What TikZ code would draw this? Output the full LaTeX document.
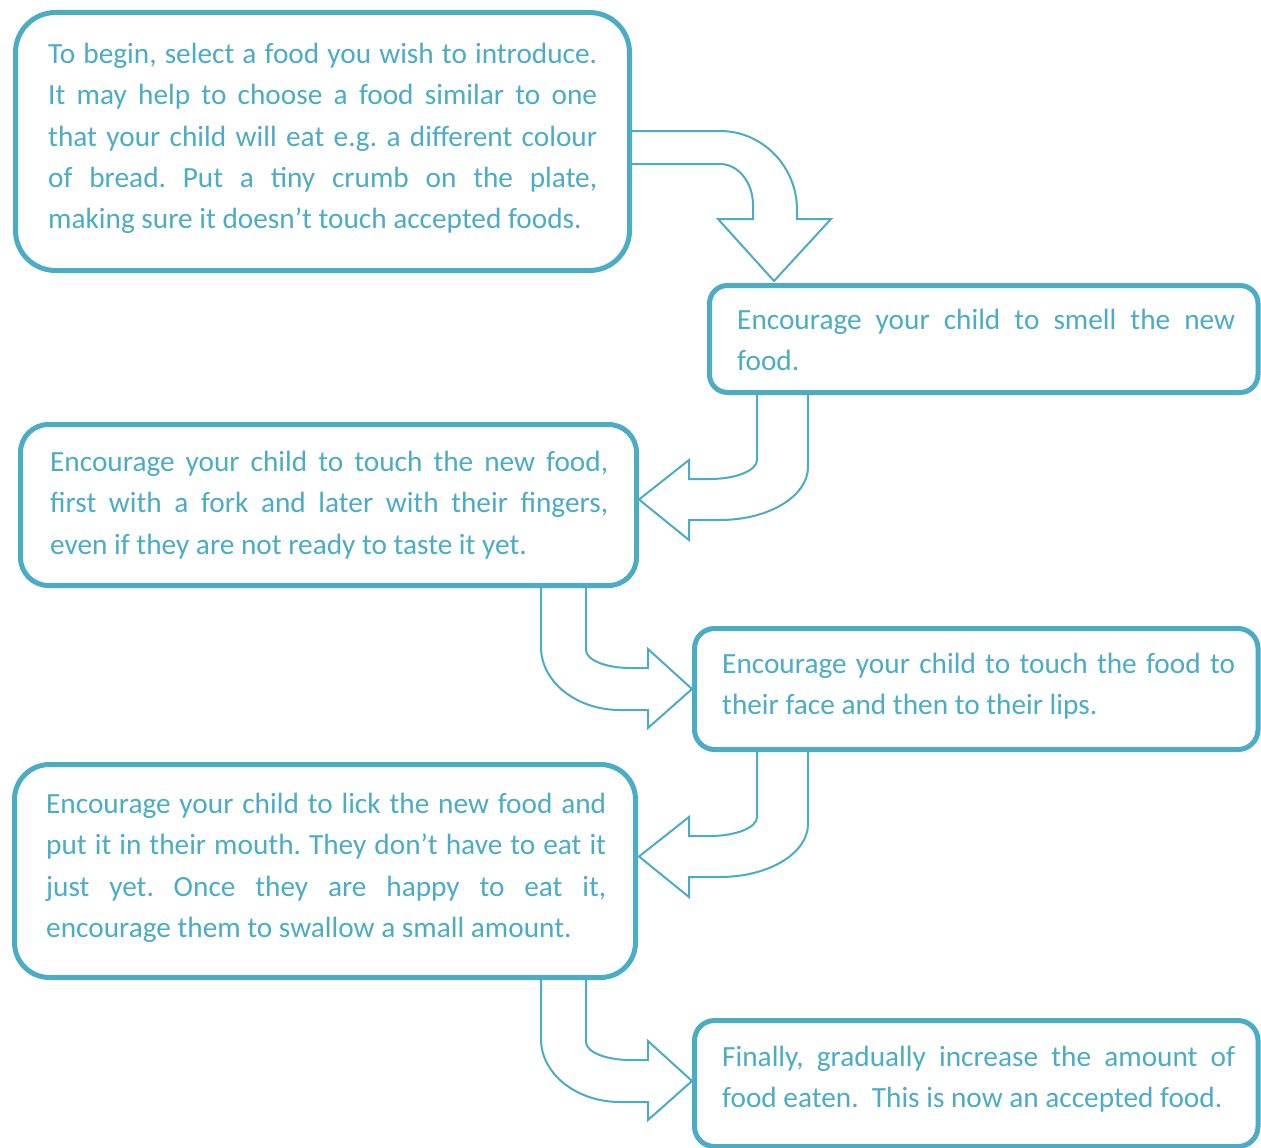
\documentclass[tikz,border=0pt]{standalone}
\usepackage{fontspec}
\setmainfont{Carlito}
\frenchspacing
\definecolor{acc}{HTML}{4BACC6}
\tikzset{
  panel/.style={draw=acc, line width=5pt, fill=white, inner sep=0pt, rectangle},
  txt/.style={text=acc, inner sep=0pt, align=justify, anchor=base west,
              font=\fontsize{29.3}{41.3}\selectfont\frenchspacing},
  barrow/.style={draw=acc, line width=2pt, fill=white, line join=miter},
}
\begin{document}
\begin{tikzpicture}[x=1pt,y=-1pt]
\useasboundingbox (0,0) rectangle (1261,1148);
\clip (0,0) rectangle (1261,1148);
\fill[white] (0,0) rectangle (1261,1148);

% bent block arrows
\draw[barrow] (625,131) -- (720,131) .. controls (762.5,131) and (797,166.4) .. (797,210)
  -- (797,219) -- (831,219) -- (774,281) -- (718,219) -- (753,219) -- (753,205)
  .. controls (753,182.4) and (738.2,164) .. (720,164) -- (625,164) -- cycle;
\foreach \dy in {0,357}{
  \begin{scope}[shift={(0,\dy)}]
  \draw[barrow] (808,390) -- (808,467) .. controls (808,496.3) and (768.6,520) .. (720,520)
    -- (689,520) -- (689,540) -- (639,499.5) -- (689,460) -- (689,479) -- (710,479)
    .. controls (736,479) and (757,470.5) .. (757,460) -- (757,390) -- cycle;
  \end{scope}}
\foreach \dy in {0,392}{
  \begin{scope}[shift={(0,\dy)}]
  \draw[barrow] (541,583) -- (541,647) .. controls (541,681.8) and (576.4,710) .. (620,710)
    -- (648,710) -- (648,728) -- (692,689) -- (648,649) -- (648,668) -- (630,668)
    .. controls (605.7,668) and (586,659.9) .. (586,650) -- (586,583) -- cycle;
  \end{scope}}

% boxes
\node[panel, minimum width=614pt, minimum height=258pt, rounded corners=40pt] (b1) at (322.5,141.5) {};
\node[panel, minimum width=548.5pt, minimum height=107pt, rounded corners=18pt] (b2) at (983.75,339) {};
\node[panel, minimum width=616pt, minimum height=161pt, rounded corners=28pt] (b3) at (328.5,505) {};
\node[panel, minimum width=563.5pt, minimum height=121pt, rounded corners=20pt] (b4) at (976.25,689) {};
\node[panel, minimum width=621pt, minimum height=213pt, rounded corners=35pt] (b5) at (325,871) {};
\node[panel, minimum width=563.5pt, minimum height=126pt, rounded corners=20pt] (b6) at (976.25,1083.5) {};

% texts
\node[txt, text width=549pt] (t1) at (48,63.5) {To begin, select a food you wish to introduce.\linebreak
It may help to choose a food similar to one\linebreak
that your child will eat e.g. a different colour\linebreak
of bread. Put a tiny crumb on the plate,\linebreak
making sure it doesn’t touch accepted foods.};
\node[txt, text width=498pt] (t2) at (737,329.5) {Encourage your child to smell the new\linebreak
food.};
\node[txt, text width=558pt] (t3) at (50,471.5) {Encourage your child to touch the new food,\linebreak
first with a fork and later with their fingers,\linebreak
even if they are not ready to taste it yet.};
\node[txt, text width=513pt] (t4) at (722,673.5) {Encourage your child to touch the food to\linebreak
their face and then to their lips.};
\node[txt, text width=560pt] (t5) at (46,813.5) {Encourage your child to lick the new food and\linebreak
put it in their mouth. They don’t have to eat it\linebreak
just yet. Once they are happy to eat it,\linebreak
encourage them to swallow a small amount.};
\node[txt, text width=513pt] (t6) at (722,1066.5) {Finally, gradually increase the amount of\linebreak
food eaten.\ \ This is now an accepted food.};
\end{tikzpicture}
\end{document}
